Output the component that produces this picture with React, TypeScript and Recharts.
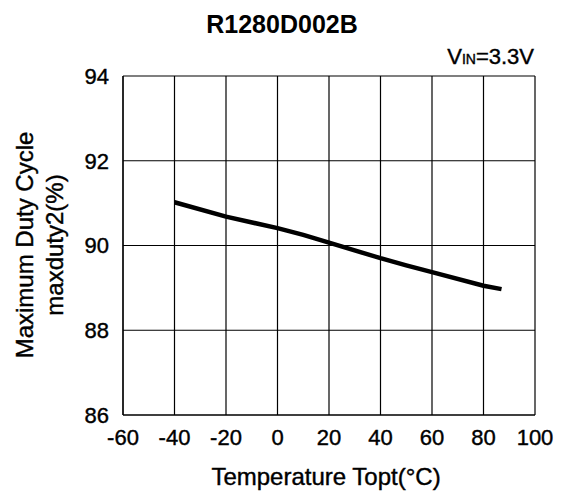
import { LineChart, Line, XAxis, YAxis, CartesianGrid } from "recharts";

const temps = [-40, -20, 0, 10, 20, 40, 50, 60, 80, 87];
const duty = [91.02, 90.68, 90.41, 90.25, 90.07, 89.7, 89.53, 89.37, 89.05, 88.97];
const xTicks = [-60, -40, -20, 0, 20, 40, 60, 80, 100];
const yTicks = [86, 88, 90, 92, 94];

const data = temps.map((t, i) => ({ t, duty: duty[i] }));

const FONT = "'Liberation Sans', Arial, sans-serif";
// the reference text renders a bit heavier than plain regular weight
const heavy = { WebkitTextStroke: "0.4px #000" } as const;
const tickStyle = { fontSize: 22, fill: "#000", fontFamily: FONT, stroke: "#000", strokeWidth: 0.4 };

export default function App() {
  return (
    <div style={{ position: "absolute", left: 0, top: 0, width: 566, height: 494, background: "#fff", fontFamily: FONT, color: "#000" }}>
      <LineChart width={566} height={494} data={data} margin={{ top: 76, right: 31, bottom: 39, left: 73 }}>
        <CartesianGrid stroke="#000" strokeWidth={1.2} />
        <XAxis
          dataKey="t"
          type="number"
          domain={[-60, 100]}
          ticks={xTicks}
          height={40}
          tickLine={false}
          tickSize={0}
          tickMargin={14}
          axisLine={{ stroke: "#000", strokeWidth: 1.2 }}
          tick={tickStyle}
        />
        <YAxis
          type="number"
          domain={[86, 94]}
          ticks={yTicks}
          width={50}
          tickLine={false}
          tickSize={0}
          tickMargin={14}
          axisLine={{ stroke: "#000", strokeWidth: 1.2 }}
          tick={tickStyle}
        />
        <Line type="linear" dataKey="duty" stroke="#000" strokeWidth={4.5} dot={false} isAnimationActive={false} />
      </LineChart>

      <div style={{ position: "absolute", left: 0, top: 12, width: 564, textAlign: "center", fontSize: 25, fontWeight: "bold", lineHeight: 1 }}>
        R1280D002B
      </div>
      <div style={{ position: "absolute", left: 0, top: 46, width: 534, textAlign: "right", fontSize: 22, lineHeight: 1, ...heavy }}>
        V<span style={{ fontSize: 14 }}>IN</span>=3.3V
      </div>
      <div style={{ position: "absolute", left: 0, top: 465, width: 652, textAlign: "center", fontSize: 24, lineHeight: 1, ...heavy }}>
        Temperature Topt(°C)
      </div>
      <div
        style={{
          position: "absolute",
          left: -110,
          top: 215,
          width: 300,
          height: 60,
          textAlign: "center",
          fontSize: 24,
          lineHeight: "30px",
          transform: "rotate(-90deg)",
          ...heavy,
        }}
      >
        Maximum Duty Cycle
        <br />
        maxduty2(%)
      </div>
    </div>
  );
}
